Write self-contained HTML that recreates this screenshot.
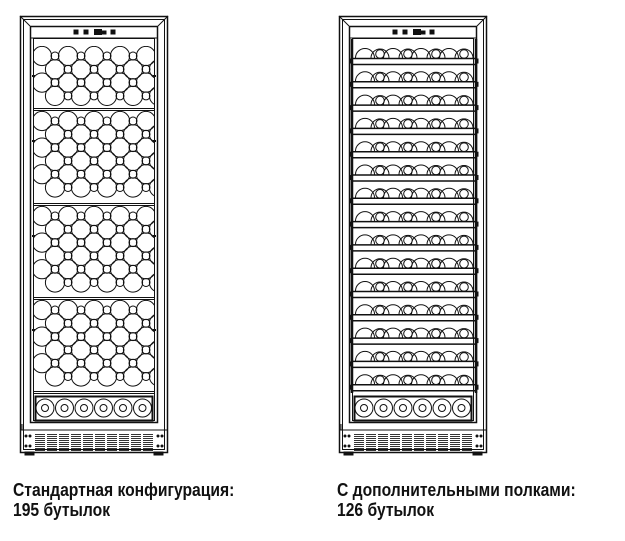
<!DOCTYPE html>
<html><head><meta charset="utf-8"><style>
html,body{margin:0;padding:0;background:#fff;width:625px;height:541px;overflow:hidden}
svg{position:absolute;left:0;top:0}
.t{position:absolute;font-family:"Liberation Sans",sans-serif;font-weight:bold;font-size:18px;line-height:20px;color:#111;transform:scaleX(0.87);transform-origin:0 0;white-space:nowrap}
</style></head><body>
<svg id="s" width="625" height="541" xmlns="http://www.w3.org/2000/svg" fill="none" stroke="#111" stroke-width="1"></svg>
<div class="t" style="left:13px;top:480px">Стандартная конфигурация:<br>195 бутылок</div>
<div class="t" style="left:337px;top:480px">С дополнительными полками:<br>126 бутылок</div>
<script>
var s=document.getElementById('s'),h='';
function R(x,y,w,hh,a){h+='<rect x="'+x+'" y="'+y+'" width="'+w+'" height="'+hh+'" '+(a||'')+'/>';}
function C(x,y,r,a){h+='<circle cx="'+x+'" cy="'+y+'" r="'+r+'" '+(a||'')+'/>';}
function L(x1,y1,x2,y2,a){h+='<line x1="'+x1+'" y1="'+y1+'" x2="'+x2+'" y2="'+y2+'" '+(a||'')+'/>';}
function cab(o){
 R(o+20.5,16.5,147,436,'stroke-width="1.5"');
 R(o+23.5,19.5,141,430);
 L(o+20,16,o+30,26);L(o+168,16,o+158,26);
 R(o+30.5,26.5,127,396,'stroke-width="1.5"');
 R(o+33.5,38.5,121,382);
 L(o+30,38,o+158,38);
 R(o+74,30,4,4,'fill="#111"');R(o+84,30,4,4,'fill="#111"');
 R(o+94.5,29.5,7,5,'fill="#111"');R(o+102,31,4,3,'fill="#111"');R(o+111,30,4,4,'fill="#111"');
 L(o+20,430,o+168,430);
 for(var b=0;b<10;b++){var x=o+35+b*12;for(var y=434;y<451;y+=2)L(x,y+.5,x+10,y+.5,'stroke="#333"');}
 C(o+26,436,1,'fill="#111"');C(o+30,436,1,'fill="#111"');C(o+26,446,1,'fill="#111"');C(o+30,446,1,'fill="#111"');
 C(o+158,436,1,'fill="#111"');C(o+162,436,1,'fill="#111"');C(o+158,446,1,'fill="#111"');C(o+162,446,1,'fill="#111"');
 R(o+25,452,9,3,'fill="#111"');R(o+154,452,9,3,'fill="#111"');
 L(o+22,424,o+22,430);
 R(o+35.5,396.5,117,24,'stroke-width="2"');
 for(var i=0;i<6;i++){var cx=o+45+i*19.5;C(cx,408,9);C(cx,408,3.5);}
}
cab(0);cab(319);
var secs=[[46,108],[111,203],[206,297],[300,391]];
secs.forEach(function(sc){
 L(33,sc[1]+.5,155,sc[1]+.5);L(33,sc[1]+2.5,155,sc[1]+2.5);
 h+='<clipPath id="c'+sc[0]+'"><rect x="34" y="'+sc[0]+'" width="120" height="'+(sc[1]-sc[0])+'"/></clipPath><g clip-path="url(#c'+sc[0]+')">';
 var n=Math.round((sc[1]-sc[0]-8)/13.3);
 for(var r=0;r<n;r++){var cy=sc[0]+10+r*13.3;var off=(r%2)?13:0;
  for(var k=0;k<6;k++){var cx=42+off+k*26;if(cx<160){C(cx,cy,9.6);C(cx+13,cy,4);}}
 }
 h+='</g>';
 L(32,sc[0]+30,35,sc[0]+30,'stroke-width="2"');L(153,sc[0]+30,156,sc[0]+30,'stroke-width="2"');
});
L(352,39,352,393,'stroke-width="2.5"');L(476,39,476,393,'stroke-width="2.5"');
for(var r=0;r<15;r++){var t=45+r*23.3,b=t+13;
 for(var k=0;k<4;k++){var cx=365+k*28;
  h+='<path d="M'+(cx-9.5)+' '+b+' A9.5 9.5 0 0 1 '+(cx+9.5)+' '+b+'"/>';
  h+='<path d="M'+(cx+6)+' '+b+' A8.5 8.5 0 0 1 '+(cx+24)+' '+b+'"/>';
  C(cx+15,b-4,4.3);
 }
 L(353,b+.5,475,b+.5,'stroke-width="1.5"');L(353,b+6.5,475,b+6.5,'stroke-width="1.5"');
 R(350,b+1,2,4,'fill="#111"');R(476,b+1,2,4,'fill="#111"');
}
s.innerHTML=h;
</script>
</body></html>
